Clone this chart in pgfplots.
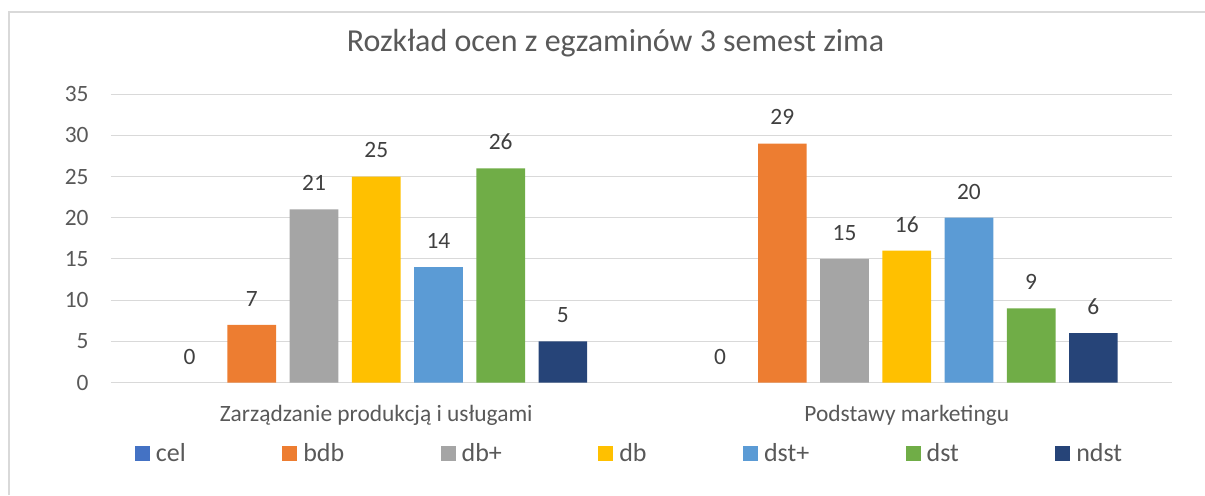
\documentclass[border=0pt]{standalone}
\usepackage{fontspec}
\setmainfont{Carlito}
\usepackage{pgfplots}
\pgfplotsset{compat=1.18}
\definecolor{ccel}{HTML}{4472C4}
\definecolor{cbdb}{HTML}{ED7D31}
\definecolor{cdbp}{HTML}{A5A5A5}
\definecolor{cdb}{HTML}{FFC000}
\definecolor{cdstp}{HTML}{5B9BD5}
\definecolor{cdst}{HTML}{70AD47}
\definecolor{cndst}{HTML}{264478}
\definecolor{gridc}{HTML}{D9D9D9}
\definecolor{txtc}{HTML}{595959}
\definecolor{labc}{HTML}{404040}
\begin{document}
\begin{tikzpicture}
\useasboundingbox (-55.5pt,-56.15pt) rectangle (547pt,191.35pt);
\draw[color=gridc, line width=0.75pt] (-51pt,-56.15pt) -- (-51pt,185.35pt);
\draw[color=gridc, line width=0.75pt] (-51.375pt,185.35pt) -- (547pt,185.35pt);
\begin{axis}[
  scale only axis, width=530.5pt, height=144.35pt,
  ybar=6.75pt, bar width=24.35pt,
  xmin=-0.5, xmax=1.5, ymin=0, ymax=35,
  xtick={0,1},
  xticklabels={Zarządzanie produkcją i usługami, Podstawy marketingu},
  ytick={0,5,...,35},
  /pgf/number format/assume math mode=true,
  axis lines*=left,
  x axis line style={gridc, line width=0.6pt},
  y axis line style={draw=none},
  tick style={draw=none},
  major tick length=0pt,
  ymajorgrids,
  grid style={gridc, line width=0.5pt},
  tick label style={font=\fontsize{11.7}{13}\selectfont, text=txtc},
  xticklabel style={anchor=base, yshift=-19.5pt, inner sep=0pt},
  yticklabel style={anchor=east, inner sep=0pt, xshift=-11pt},
  title={Rozkład ocen z egzaminów 3 semest zima},
  title style={font=\fontsize{16}{19}\selectfont, text=txtc, anchor=base,
    at={(axis description cs:0.4755,1)}, yshift=15.5pt, inner sep=0pt},
  nodes near coords,
  every node near coord/.append style={anchor=base, yshift=9.35pt, inner sep=0pt,
    font=\fontsize{11.7}{13}\selectfont, text=labc},
  every axis plot/.append style={draw=none},
  legend columns=7,
  legend image code/.code={\path[#1, draw=none] (0pt,0.4pt) rectangle (7.5pt,7.9pt);},
  legend style={at={(axis description cs:0.02262,-0.2477)}, anchor=west,
    draw=none, fill=none, inner sep=0pt, outer sep=0pt,
    font=\fontsize{13}{15}\selectfont, text=txtc,
    nodes={inner sep=0pt, anchor=base},
    column sep=0pt, row sep=0pt,
    /tikz/every odd column/.append style={column sep=3pt},
    /tikz/every even column/.append style={column sep=48.2pt}},
]
\addplot[fill=none, legend image code/.code={\fill[ccel] (0pt,0.4pt) rectangle (7.5pt,7.9pt);}] coordinates {(0,0) (1,0)};
\addplot[fill=cbdb] coordinates {(0,7) (1,29)};
\addplot[fill=cdbp] coordinates {(0,21) (1,15)};
\addplot[fill=cdb] coordinates {(0,25) (1,16)};
\addplot[fill=cdstp] coordinates {(0,14) (1,20)};
\addplot[fill=cdst] coordinates {(0,26) (1,9)};
\addplot[fill=cndst] coordinates {(0,5) (1,6)};
\legend{cel, bdb, db+, db, dst+, dst, ndst}
\end{axis}
\end{tikzpicture}
\end{document}
